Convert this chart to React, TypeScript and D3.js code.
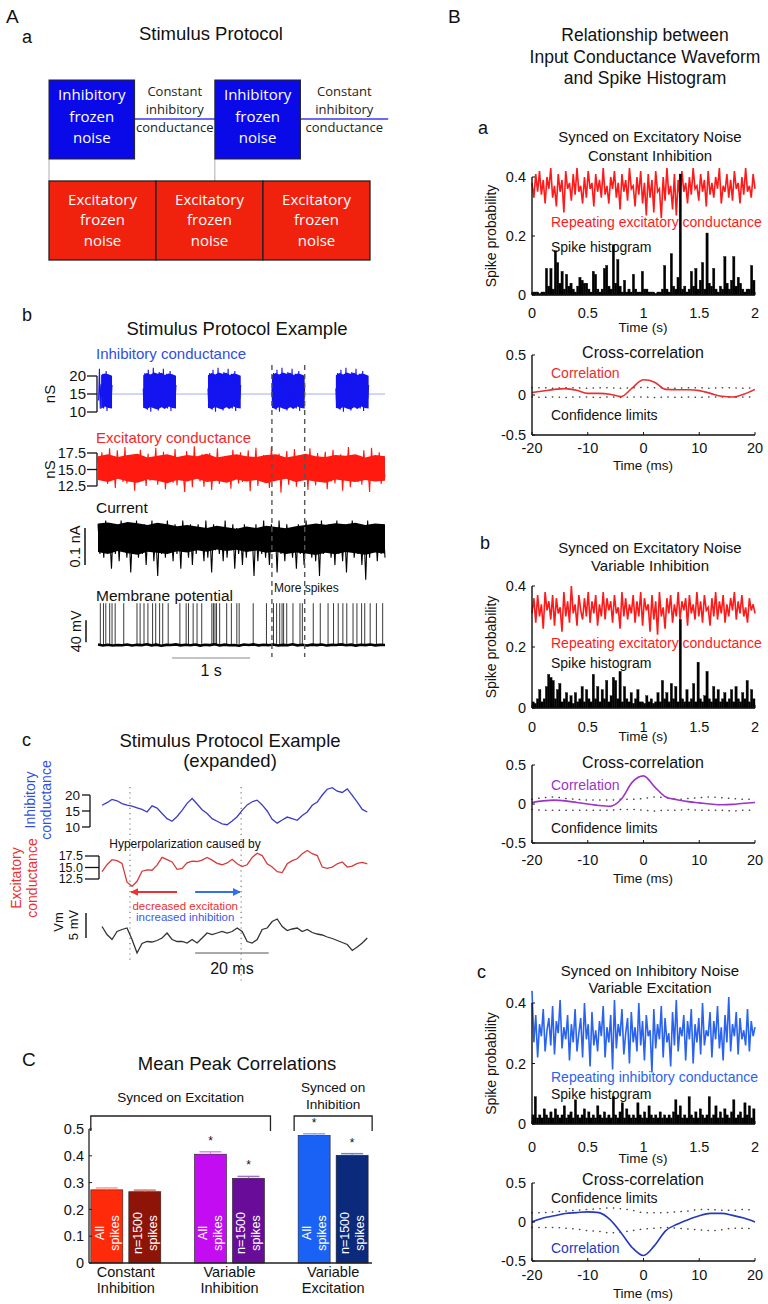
import React from 'react';
import * as d3 from 'd3';

const FONT = '"Liberation Sans", Arial, Helvetica, sans-serif';
const BOX_FONT = '"Open Sans", "Liberation Sans", sans-serif';

// ---------- A a : protocol schematic (time in units of one excitatory block)
const excBlockOnsets = [0, 1, 2];
const excBlockLen = 1;
const inhBlockOnsets = [0, 1.55];
const inhBlockLen = 0.8;
const protocolEnd = 3.17;

// ---------- A b : stimulus protocol example
const stimDuration = 3.68; // s
const inhFrozen = [16.5, 11.2, 20.8, 12.4, 18.9, 10.6, 21.7, 13.8, 17.2, 10.1, 19.6, 14.5, 22.3, 11.8, 16.0, 20.2, 12.9, 18.4, 10.4, 21.1, 15.3, 11.5, 19.8, 13.2, 22.0, 10.9, 17.7, 14.1, 20.6, 11.0, 18.1, 12.6, 21.4, 10.3, 16.8, 19.3, 12.1, 20.0, 13.6, 17.5];
// dense core of each burst (min / max envelope)
const inhBandHi = [20.2, 20.8, 20.4, 21.0, 20.6, 20.9, 20.3, 20.7, 20.5, 20.1];
const inhBandLo = [11.2, 10.8, 11.4, 11.0, 10.7, 11.3, 10.9, 11.5, 11.1, 11.0];
const inhBurstOnsets = [-0.24, 0.58, 1.41, 2.23, 3.05];
const inhBurstDur = 0.42;
const inhTicks = [10, 15, 20];
const excTicks = [12.5, 15.0, 17.5];
const excStim = [16.8, 13.4, 17.6, 14.1, 15.9, 12.8, 18.2, 13.9, 16.4, 12.2, 17.9, 14.6, 15.3, 13.1, 18.4, 12.9, 16.9, 14.3, 17.2, 11.8, 16.1, 13.7, 18.0, 14.8, 15.6, 12.5, 17.4, 13.3, 16.7, 14.0, 18.3, 12.7, 15.8, 13.5, 17.7, 12.0, 16.5, 14.4, 17.1, 13.0, 18.1, 12.6, 16.2, 14.7, 15.4, 11.6, 17.8, 13.8, 16.6, 12.3, 18.5, 14.2, 15.7, 13.2, 17.3, 12.4, 16.3, 14.9, 17.5, 11.9, 16.0, 13.6, 18.2, 12.8, 15.5, 14.1, 17.0, 13.4, 16.8, 12.1, 18.0, 14.5, 15.2, 12.9, 17.6, 13.1, 16.4, 14.0, 17.9, 11.7, 16.7, 13.9, 18.3, 12.5, 15.9, 14.6, 17.2, 13.0, 16.1, 12.2, 18.4, 14.3, 15.6, 13.7, 17.4, 11.5, 16.9, 14.8, 17.8, 12.7, 16.2, 13.3, 18.1, 12.4, 15.8, 14.2, 17.0, 13.5, 16.6, 11.9, 18.2, 14.0, 15.3, 12.6, 17.5, 13.8, 16.4, 14.7, 17.7, 12.0, 16.0, 13.2, 18.0, 12.9, 15.7, 14.4, 17.3, 11.8, 16.8, 13.6, 18.4, 12.3, 15.5, 14.9, 17.1, 13.1, 16.3, 12.7, 17.9, 14.1, 15.9, 11.6, 18.3, 13.4, 16.5, 14.5, 17.6, 12.8, 16.1, 13.9];
const excBandHi = [17.0, 17.3, 16.9, 17.2, 17.4, 16.8, 17.1, 17.3, 16.9, 17.2, 17.0, 17.4, 16.8, 17.1, 17.3, 17.0, 16.9, 17.2, 17.3, 16.8, 17.1, 17.4, 17.0, 16.9, 17.2, 17.1, 17.3, 16.8, 17.2, 17.0];
const excBandLo = [13.4, 13.1, 13.6, 13.2, 13.0, 13.5, 13.3, 12.9, 13.4, 13.2, 13.6, 13.1, 13.3, 13.0, 13.5, 13.2, 13.4, 12.9, 13.3, 13.6, 13.1, 13.4, 13.2, 13.0, 13.5, 13.3, 13.1, 13.4, 13.2, 13.3];
const currentTrace = [0.11, 0.03, 0.10, 0.02, 0.12, 0.04, 0.09, -0.01, 0.11, 0.03, 0.10, 0.01, 0.12, 0.05, 0.09, 0.02, 0.11, -0.02, 0.10, 0.04, 0.12, 0.02, 0.09, 0.03, 0.11, 0.00, 0.10, 0.04, 0.12, 0.01, 0.09, -0.03, 0.11, 0.03, 0.10, 0.02, 0.12, 0.05, 0.09, 0.01, 0.11, 0.03, 0.10, -0.01, 0.12, 0.04, 0.09, 0.02, 0.11, 0.00, 0.10, 0.03, 0.11, 0.05, 0.09, 0.01, 0.12, 0.02, 0.10, -0.02, 0.11, 0.04, 0.09, 0.03, 0.10, 0.01, 0.12, 0.02, 0.09, 0.04, 0.11, -0.01, 0.10, 0.03, 0.09, 0.00, 0.11, 0.02, 0.10, 0.04, 0.09, -0.03, 0.11, 0.01, 0.10, 0.03, 0.12, 0.02, 0.09, 0.00, 0.11, 0.04, 0.10, -0.02, 0.12, 0.03, 0.09, 0.01, 0.11, 0.05, 0.10, 0.02, 0.09, -0.01, 0.11, 0.03, 0.10, 0.00, 0.12, 0.04, 0.09, 0.02, 0.11, 0.01, 0.10, -0.03, 0.12, 0.03, 0.09, 0.04, 0.11, 0.02, 0.10, 0.00, 0.12, 0.03, 0.09, 0.01, 0.11, -0.02, 0.10, 0.04, 0.12, 0.02, 0.09, 0.03, 0.11, 0.00, 0.10, -0.04, 0.12, 0.02, 0.09, 0.04, 0.11, 0.01, 0.10, 0.03, 0.11, 0.02];
const curBandHi = [0.112, 0.115, 0.11, 0.116, 0.113, 0.108, 0.114, 0.11, 0.105, 0.108, 0.104, 0.1, 0.106, 0.102, 0.098, 0.104, 0.1, 0.106, 0.103, 0.099, 0.105, 0.108, 0.112, 0.109, 0.113, 0.11, 0.114, 0.108, 0.112, 0.11];
const curBandLo = [0.035, 0.03, 0.038, 0.032, 0.028, 0.036, 0.033, 0.03, 0.037, 0.034, 0.04, 0.036, 0.042, 0.038, 0.041, 0.035, 0.039, 0.033, 0.036, 0.03, 0.034, 0.031, 0.027, 0.033, 0.029, 0.035, 0.032, 0.028, 0.034, 0.031];
const vmBaseline = [-64.2, -65.8, -64.6, -66.0, -64.9, -65.5, -64.1, -65.9, -64.7, -65.3, -63.8, -65.6, -64.4, -66.2, -64.8, -65.1, -63.9, -65.7, -64.5, -65.4, -64.0, -66.1, -64.6, -65.2, -63.7, -65.8, -64.3, -65.5, -64.9, -66.3, -64.2, -65.0, -63.9, -65.7, -64.6, -65.3, -64.1, -65.9, -64.8, -65.4, -63.8, -65.6, -64.5, -66.0, -64.3, -65.2, -64.0, -65.8, -64.7, -65.1, -63.9, -65.5, -64.4, -66.1, -64.6, -65.3, -64.2, -65.7, -64.8, -65.0];
const spikeTimes = [0.03, 0.07, 0.10, 0.15, 0.18, 0.22, 0.33, 0.50, 0.54, 0.59, 0.64, 0.70, 0.74, 0.79, 0.83, 0.90, 1.05, 1.13, 1.16, 1.22, 1.27, 1.33, 1.46, 1.48, 1.50, 1.52, 1.56, 1.65, 1.71, 1.78, 1.81, 1.99, 2.16, 2.25, 2.29, 2.33, 2.36, 2.38, 2.42, 2.50, 2.59, 2.62, 2.76, 2.85, 2.95, 3.02, 3.08, 3.14, 3.19, 3.27, 3.32, 3.38, 3.42, 3.49, 3.57, 3.65];
const spikePeak = 11; // mV
const moreSpikesWindow = [2.23, 2.65];

// ---------- A c : expanded example
const expDt = 1.36; // ms per sample
const expInh = [16.8, 17.6, 18.6, 18.2, 17.3, 16.8, 16.5, 16.0, 15.5, 14.7, 16.6, 15.9, 14.2, 12.6, 11.8, 13.3, 15.2, 17.4, 18.9, 17.2, 15.4, 14.2, 12.6, 11.8, 11.0, 10.7, 11.9, 13.2, 15.2, 16.9, 17.9, 18.4, 16.9, 15.0, 12.4, 11.2, 12.2, 13.1, 12.6, 12.1, 13.6, 14.7, 16.8, 17.8, 20.0, 21.8, 22.3, 21.2, 20.8, 21.9, 19.9, 17.8, 15.5, 14.7];
const expExc = [14.1, 15.6, 16.7, 16.5, 15.9, 11.8, 10.9, 12.0, 14.2, 14.5, 14.4, 15.5, 17.2, 16.7, 16.2, 14.6, 14.8, 16.0, 16.4, 16.3, 16.6, 17.2, 16.6, 15.9, 15.6, 16.0, 16.8, 15.8, 15.2, 15.6, 17.2, 18.1, 17.6, 15.8, 15.1, 14.1, 13.9, 15.8, 16.5, 16.9, 18.0, 18.7, 18.0, 17.6, 15.1, 14.8, 15.1, 15.8, 16.2, 15.1, 15.3, 15.9, 16.1, 15.8];
const expVm = [-58.7, -60.3, -61.3, -59.7, -59.3, -59.0, -61.3, -64.0, -62.1, -61.7, -61.8, -61.5, -61.0, -60.0, -61.3, -61.7, -61.7, -62.0, -61.3, -62.0, -61.0, -60.0, -60.3, -60.0, -59.7, -60.0, -59.7, -59.0, -59.7, -61.7, -62.0, -61.3, -59.3, -59.0, -57.7, -57.2, -58.7, -59.5, -59.2, -59.0, -59.7, -59.3, -59.9, -60.2, -60.4, -60.8, -61.1, -61.5, -61.9, -62.3, -63.5, -62.8, -62.0, -61.0];
const expMarkers = [7.6, 37.8]; // ms
const expInhTicks = [10, 15, 20];
const expExcTicks = [12.5, 15.0, 17.5];

// ---------- C : mean peak correlations
const groups = ['Constant Inhibition', 'Variable Inhibition', 'Variable Excitation'];
const subsets = ['All spikes', 'n=1500 spikes'];
const peakMeans = [0.273, 0.266, 0.406, 0.316, 0.476, 0.402];
const peakErrors = [0.007, 0.006, 0.009, 0.007, 0.006, 0.006];
const peakSignificant = [false, false, true, true, true, true];
const barColors = ['#ff2a0a', '#8e1408', '#c40cf2', '#6a0c9a', '#1a62f5', '#0c2a7c'];
const errColors = ['#ff9a90', '#d07a70', '#e080ff', '#a070d0', '#80a8ff', '#6a88c8'];
const barTicks = [0, 0.1, 0.2, 0.3, 0.4, 0.5];

// ---------- B : synced histograms
const histBin = 0.02; // s
const timeTicks = [0, 0.5, 1, 1.5, 2];
const probTicks = [0, 0.2, 0.4];
const baCond = [0.38, 0.33, 0.41, 0.35, 0.42, 0.34, 0.39, 0.31, 0.40, 0.36, 0.43, 0.33, 0.37, 0.30, 0.41, 0.35, 0.39, 0.28, 0.42, 0.36, 0.38, 0.32, 0.41, 0.34, 0.43, 0.35, 0.37, 0.31, 0.40, 0.33, 0.42, 0.36, 0.38, 0.30, 0.41, 0.35, 0.39, 0.33, 0.43, 0.34, 0.37, 0.31, 0.40, 0.36, 0.42, 0.33, 0.38, 0.29, 0.41, 0.35, 0.39, 0.32, 0.43, 0.36, 0.37, 0.30, 0.40, 0.34, 0.42, 0.31, 0.38, 0.27, 0.41, 0.33, 0.39, 0.28, 0.42, 0.35, 0.36, 0.26, 0.40, 0.32, 0.43, 0.34, 0.37, 0.29, 0.41, 0.27, 0.39, 0.33, 0.42, 0.35, 0.38, 0.31, 0.40, 0.34, 0.43, 0.36, 0.37, 0.32, 0.41, 0.35, 0.39, 0.30, 0.42, 0.34, 0.38, 0.33, 0.40, 0.36, 0.43, 0.31, 0.37, 0.35, 0.41, 0.33, 0.39, 0.32, 0.42, 0.36, 0.38, 0.31, 0.40, 0.34, 0.43, 0.35, 0.37, 0.33, 0.41, 0.36];
const baHist = [0.01, 0.01, 0.01, 0.005, 0.01, 0.01, 0.09, 0.03, 0.09, 0.02, 0.15, 0.11, 0.04, 0.08, 0.02, 0.07, 0.03, 0.04, 0.02, 0.01, 0.03, 0.06, 0.05, 0.04, 0.04, 0.02, 0.01, 0.08, 0.07, 0.02, 0.01, 0.02, 0.09, 0.10, 0.03, 0.02, 0.17, 0.04, 0.12, 0.03, 0.01, 0.05, 0.01, 0.02, 0.01, 0.07, 0.02, 0.01, 0.01, 0.08, 0.02, 0.02, 0.01, 0.01, 0.01, 0.005, 0.01, 0.01, 0.02, 0.10, 0.02, 0.01, 0.14, 0.03, 0.02, 0.06, 0.41, 0.02, 0.03, 0.01, 0.02, 0.08, 0.03, 0.09, 0.02, 0.05, 0.11, 0.02, 0.21, 0.04, 0.03, 0.09, 0.02, 0.01, 0.03, 0.02, 0.13, 0.04, 0.02, 0.05, 0.13, 0.03, 0.06, 0.04, 0.02, 0.01, 0.02, 0.02, 0.10, 0.05];
const bbCond = [0.31, 0.36, 0.28, 0.37, 0.30, 0.34, 0.26, 0.38, 0.32, 0.35, 0.29, 0.37, 0.27, 0.36, 0.31, 0.33, 0.25, 0.38, 0.30, 0.35, 0.28, 0.40, 0.31, 0.34, 0.27, 0.37, 0.32, 0.29, 0.36, 0.30, 0.38, 0.28, 0.35, 0.31, 0.37, 0.27, 0.34, 0.30, 0.38, 0.29, 0.36, 0.32, 0.35, 0.28, 0.37, 0.31, 0.33, 0.26, 0.38, 0.30, 0.36, 0.29, 0.34, 0.31, 0.37, 0.28, 0.35, 0.30, 0.38, 0.27, 0.36, 0.32, 0.34, 0.25, 0.37, 0.29, 0.35, 0.24, 0.38, 0.30, 0.33, 0.26, 0.36, 0.31, 0.37, 0.28, 0.34, 0.30, 0.38, 0.29, 0.35, 0.32, 0.36, 0.27, 0.37, 0.31, 0.34, 0.29, 0.38, 0.30, 0.35, 0.28, 0.37, 0.32, 0.33, 0.27, 0.36, 0.30, 0.38, 0.29, 0.35, 0.31, 0.37, 0.28, 0.34, 0.30, 0.36, 0.32, 0.38, 0.29, 0.35, 0.31, 0.37, 0.30, 0.33, 0.28, 0.36, 0.32, 0.34, 0.31];
const bbHist = [0.02, 0.015, 0.03, 0.06, 0.02, 0.03, 0.07, 0.11, 0.10, 0.09, 0.03, 0.06, 0.08, 0.02, 0.03, 0.05, 0.02, 0.04, 0.015, 0.05, 0.02, 0.03, 0.07, 0.02, 0.06, 0.03, 0.02, 0.11, 0.03, 0.07, 0.02, 0.06, 0.03, 0.09, 0.02, 0.04, 0.10, 0.09, 0.03, 0.12, 0.02, 0.07, 0.03, 0.02, 0.05, 0.015, 0.03, 0.06, 0.02, 0.02, 0.015, 0.04, 0.02, 0.03, 0.015, 0.02, 0.05, 0.02, 0.09, 0.03, 0.05, 0.02, 0.08, 0.03, 0.07, 0.02, 0.29, 0.03, 0.02, 0.06, 0.02, 0.03, 0.08, 0.02, 0.15, 0.03, 0.02, 0.04, 0.12, 0.03, 0.02, 0.07, 0.03, 0.06, 0.02, 0.03, 0.05, 0.02, 0.03, 0.06, 0.02, 0.07, 0.03, 0.02, 0.05, 0.03, 0.09, 0.02, 0.06, 0.03];
const bcCond = [0.44, 0.27, 0.36, 0.22, 0.33, 0.29, 0.38, 0.24, 0.31, 0.35, 0.26, 0.39, 0.23, 0.34, 0.30, 0.41, 0.25, 0.32, 0.28, 0.36, 0.21, 0.33, 0.27, 0.38, 0.24, 0.30, 0.35, 0.22, 0.40, 0.28, 0.33, 0.19, 0.37, 0.26, 0.31, 0.24, 0.34, 0.29, 0.39, 0.22, 0.32, 0.27, 0.36, 0.18, 0.41, 0.25, 0.33, 0.29, 0.38, 0.23, 0.30, 0.35, 0.20, 0.37, 0.27, 0.32, 0.24, 0.40, 0.26, 0.34, 0.21, 0.36, 0.29, 0.31, 0.17, 0.38, 0.25, 0.33, 0.28, 0.39, 0.22, 0.35, 0.27, 0.30, 0.19, 0.37, 0.26, 0.41, 0.24, 0.32, 0.29, 0.36, 0.21, 0.34, 0.28, 0.38, 0.20, 0.33, 0.27, 0.35, 0.23, 0.40, 0.26, 0.31, 0.29, 0.37, 0.22, 0.34, 0.28, 0.39, 0.25, 0.32, 0.21, 0.36, 0.27, 0.42, 0.24, 0.33, 0.29, 0.37, 0.23, 0.35, 0.28, 0.31, 0.26, 0.38, 0.24, 0.34, 0.29, 0.32];
const bcHist = [0.03, 0.09, 0.02, 0.03, 0.02, 0.05, 0.03, 0.02, 0.04, 0.02, 0.05, 0.03, 0.02, 0.03, 0.06, 0.02, 0.03, 0.04, 0.02, 0.08, 0.03, 0.02, 0.03, 0.05, 0.02, 0.04, 0.02, 0.03, 0.02, 0.06, 0.03, 0.02, 0.04, 0.02, 0.03, 0.02, 0.09, 0.03, 0.02, 0.04, 0.07, 0.02, 0.05, 0.03, 0.02, 0.03, 0.02, 0.07, 0.03, 0.02, 0.04, 0.02, 0.06, 0.03, 0.02, 0.03, 0.02, 0.04, 0.02, 0.03, 0.02, 0.03, 0.02, 0.04, 0.08, 0.03, 0.06, 0.02, 0.03, 0.02, 0.09, 0.03, 0.02, 0.04, 0.02, 0.05, 0.03, 0.02, 0.03, 0.09, 0.02, 0.03, 0.06, 0.02, 0.04, 0.02, 0.05, 0.03, 0.02, 0.04, 0.08, 0.02, 0.03, 0.04, 0.02, 0.07, 0.03, 0.06, 0.02, 0.05];

// ---------- B : cross-correlations (lag in ms)
const corrLags = [-20, -18, -16, -14, -12, -10, -8, -6, -4, -2, 0, 2, 4, 6, 8, 10, 12, 14, 16, 18, 20];
const lagTicks = [-20, -10, 0, 10, 20];
const corrTicks = [-0.5, 0, 0.5];
const caCorr = [0.03, 0.05, 0.07, 0.08, 0.06, 0.02, 0.02, 0.01, -0.02, 0.09, 0.19, 0.16, 0.07, 0.065, 0.065, 0.055, 0.02, -0.015, -0.025, 0.01, 0.07];
const caUpper = [0.09, 0.09, 0.085, 0.09, 0.09, 0.085, 0.09, 0.09, 0.085, 0.09, 0.095, 0.09, 0.09, 0.085, 0.09, 0.09, 0.085, 0.09, 0.09, 0.085, 0.09];
const caLower = [-0.025, -0.03, -0.025, -0.03, -0.025, -0.025, -0.03, -0.025, -0.03, -0.025, -0.025, -0.03, -0.025, -0.03, -0.025, -0.03, -0.025, -0.025, -0.03, -0.025, -0.025];
const cbCorr = [0.02, 0.04, 0.05, 0.04, 0.02, 0.0, -0.02, -0.03, 0.06, 0.28, 0.36, 0.22, 0.09, 0.055, 0.03, 0.015, 0.0, -0.01, -0.005, 0.01, 0.02];
const cbUpper = [0.06, 0.08, 0.09, 0.07, 0.06, 0.05, 0.05, 0.05, 0.06, 0.06, 0.07, 0.09, 0.08, 0.06, 0.07, 0.08, 0.09, 0.08, 0.07, 0.06, 0.06];
const cbLower = [-0.07, -0.08, -0.08, -0.08, -0.08, -0.08, -0.08, -0.08, -0.07, -0.07, -0.08, -0.09, -0.08, -0.08, -0.07, -0.08, -0.08, -0.08, -0.09, -0.08, -0.08];
const ccCorr = [0.0, 0.05, 0.08, 0.11, 0.12, 0.13, 0.12, 0.03, -0.14, -0.33, -0.43, -0.3, -0.11, -0.03, 0.03, 0.08, 0.11, 0.11, 0.085, 0.05, 0.0];
const ccUpper = [0.12, 0.12, 0.13, 0.14, 0.15, 0.16, 0.17, 0.18, 0.17, 0.15, 0.12, 0.12, 0.12, 0.13, 0.14, 0.16, 0.16, 0.15, 0.15, 0.16, 0.15];
const ccLower = [-0.07, -0.07, -0.07, -0.08, -0.09, -0.11, -0.12, -0.14, -0.13, -0.11, -0.09, -0.08, -0.07, -0.08, -0.09, -0.1, -0.11, -0.1, -0.08, -0.08, -0.09];

type Scale = (v: number) => number;

function trace(vals: number[], x: Scale, y: Scale, t0: number, dt: number) {
  return d3.line<number>()
    .defined((_, i) => t0 + i * dt >= 0)
    .x((_, i) => x(t0 + i * dt))
    .y(d => y(d))(vals) || '';
}

function band(hi: number[], lo: number[], x: Scale, y: Scale, t0: number, dt: number) {
  return d3.area<number>()
    .defined((_, i) => t0 + i * dt >= 0)
    .x((_, i) => x(t0 + i * dt))
    .y0((_, i) => y(lo[i]))
    .y1(d => y(d))(hi) || '';
}

function RotText({ x, y, children, size = 13, fill = '#111' }: any) {
  return (
    <text transform={`translate(${x},${y}) rotate(-90)`} textAnchor="middle" fontSize={size} fill={fill}>
      {children}
    </text>
  );
}

function Protocol() {
  const x = d3.scaleLinear().domain([0, 3]).range([49, 370]);
  const inhTop = 80, inhBot = 159, excTop = 181, excBot = 260, lineY = 119;
  return (
    <g>
      <text x={6} y={23} fontSize={19}>A</text>
      <text x={22} y={43} fontSize={18}>a</text>
      <text x={211} y={40} textAnchor="middle" fontSize={18.5}>Stimulus Protocol</text>
      {inhBlockOnsets.map((t, i) => {
        const next = i + 1 < inhBlockOnsets.length ? inhBlockOnsets[i + 1] : protocolEnd;
        const x0 = x(t + inhBlockLen), x1 = x(next);
        const cx = (x0 + x1) / 2;
        return (
          <g key={'c' + i}>
            <line x1={x(t)} x2={x(t)} y1={inhBot} y2={excTop} stroke="#999" strokeWidth={0.8} />
            <line x1={x0} x2={x1} y1={lineY} y2={lineY} stroke="#3a3af0" strokeWidth={1.4} />
            <g fontFamily={BOX_FONT} fontSize={13} fill="#222" textAnchor="middle">
              <text x={cx} y={96}>Constant</text>
              <text x={cx} y={114}>inhibitory</text>
              <text x={cx} y={132}>conductance</text>
            </g>
          </g>
        );
      })}
      {inhBlockOnsets.map((t, i) => {
        const cx = (x(t) + x(t + inhBlockLen)) / 2;
        return (
          <g key={'i' + i}>
            <rect x={x(t)} y={inhTop} width={x(t + inhBlockLen) - x(t)} height={inhBot - inhTop} fill="#0a0ae8" stroke="#222" strokeWidth={1} />
            <g fontFamily={BOX_FONT} fontSize={15} fill="#fff" textAnchor="middle">
              <text x={cx} y={100}>Inhibitory</text>
              <text x={cx} y={122}>frozen</text>
              <text x={cx} y={143}>noise</text>
            </g>
          </g>
        );
      })}
      {excBlockOnsets.map((t, i) => {
        const cx = (x(t) + x(t + excBlockLen)) / 2;
        return (
          <g key={'e' + i}>
            <rect x={x(t)} y={excTop} width={x(t + excBlockLen) - x(t)} height={excBot - excTop} fill="#f0220e" stroke="#222" strokeWidth={1.3} />
            <g fontFamily={BOX_FONT} fontSize={15} fill="#fff" textAnchor="middle">
              <text x={cx} y={205}>Excitatory</text>
              <text x={cx} y={225}>frozen</text>
              <text x={cx} y={246}>noise</text>
            </g>
          </g>
        );
      })}
    </g>
  );
}

function StimExample() {
  const x = d3.scaleLinear().domain([0, stimDuration]).range([98, 385]);
  const yInh = d3.scaleLinear().domain([10, 20]).range([412, 376]);
  const yExc = d3.scaleLinear().domain([12.5, 17.5]).range([486, 453]);
  const yCur = d3.scaleLinear().domain([0, 0.1]).range([565, 528]);
  const yVm = d3.scaleLinear().domain([-65, -25]).range([645, 623]);
  const inhDt = inhBurstDur / (inhFrozen.length - 1);
  const inhBandDt = inhBurstDur / (inhBandHi.length - 1);
  const axisX = 97;
  return (
    <g>
      <text x={22} y={321} fontSize={18}>b</text>
      <text x={237} y={335} textAnchor="middle" fontSize={18.5}>Stimulus Protocol Example</text>
      <text x={96} y={358.5} fontSize={15} fill="#2f4fe0">Inhibitory conductance</text>
      <line x1={x(0)} x2={x(stimDuration)} y1={yInh(15)} y2={yInh(15)} stroke="#8a9af0" strokeWidth={0.8} />
      {inhBurstOnsets.map((t0, i) => (
        <g key={i}>
          <path d={band(inhBandHi, inhBandLo, x, yInh, t0, inhBandDt)} fill="#1414f0" />
          <path d={trace(inhFrozen, x, yInh, t0, inhDt)} fill="none" stroke="#1414f0" strokeWidth={1.1} />
        </g>
      ))}
      <line x1={axisX} x2={axisX} y1={yInh(10)} y2={yInh(20)} stroke="#111" strokeWidth={1.3} />
      {inhTicks.map(t => (
        <g key={t}>
          <line x1={axisX - 10} x2={axisX} y1={yInh(t)} y2={yInh(t)} stroke="#111" strokeWidth={1.3} />
          <text x={axisX - 11} y={yInh(t) + 5.3} textAnchor="end" fontSize={15}>{t}</text>
        </g>
      ))}
      <RotText x={55} y={yInh(15)} size={15}>nS</RotText>

      <text x={96} y={442.5} fontSize={15} fill="#f02a2a">Excitatory conductance</text>
      <path d={band(excBandHi, excBandLo, x, yExc, 0, stimDuration / (excBandHi.length - 1))} fill="#ff1a10" />
      <path d={trace(excStim, x, yExc, 0, stimDuration / (excStim.length - 1))} fill="none" stroke="#ff1a10" strokeWidth={1.1} />
      <line x1={axisX} x2={axisX} y1={yExc(12.5)} y2={yExc(17.5)} stroke="#111" strokeWidth={1.3} />
      {excTicks.map(t => (
        <g key={t}>
          <line x1={axisX - 10} x2={axisX} y1={yExc(t)} y2={yExc(t)} stroke="#111" strokeWidth={1.3} />
          <text x={axisX - 11} y={yExc(t) + 5} textAnchor="end" fontSize={14.5}>{t.toFixed(1)}</text>
        </g>
      ))}
      <RotText x={55} y={yExc(15)} size={15}>nS</RotText>

      <text x={96} y={512.5} fontSize={15.5}>Current</text>
      <path d={band(curBandHi, curBandLo, x, yCur, 0, stimDuration / (curBandHi.length - 1))} fill="#000" />
      <path d={trace(currentTrace, x, yCur, 0, stimDuration / (currentTrace.length - 1))} fill="none" stroke="#000" strokeWidth={1.1} />
      <line x1={85} x2={85} y1={yCur(0)} y2={yCur(0.1)} stroke="#111" strokeWidth={1.5} />
      <RotText x={80} y={(yCur(0) + yCur(0.1)) / 2} size={14.5}>0.1 nA</RotText>

      <text x={96} y={601} fontSize={15.5}>Membrane potential</text>
      <text x={274} y={591.5} fontSize={12}>More spikes</text>
      {spikeTimes.map((t, i) => (
        <line key={i} x1={x(t)} x2={x(t)} y1={yVm(-65)} y2={yVm(spikePeak)} stroke="#222" strokeWidth={0.9} />
      ))}
      <path d={trace(vmBaseline, x, yVm, 0, stimDuration / (vmBaseline.length - 1))} fill="none" stroke="#000" strokeWidth={2.6} />
      <line x1={86} x2={86} y1={yVm(-60)} y2={yVm(-20)} stroke="#111" strokeWidth={1.5} />
      <RotText x={81} y={yVm(-40)} size={14.5}>40 mV</RotText>

      {moreSpikesWindow.map((t, i) => (
        <line key={i} x1={x(t)} x2={x(t)} y1={365} y2={657} stroke="#555" strokeWidth={1.4} strokeDasharray="5 4" />
      ))}
      <line x1={x(0.95)} x2={x(1.95)} y1={658} y2={658} stroke="#888" strokeWidth={1} />
      <text x={x(1.45)} y={676} textAnchor="middle" fontSize={16}>1 s</text>
    </g>
  );
}

function Expanded() {
  const x = d3.scaleLinear().domain([0, 72]).range([102, 367]);
  const yInh = d3.scaleLinear().domain([10, 20]).range([827, 795]);
  const yExc = d3.scaleLinear().domain([12.5, 17.5]).range([879, 856]);
  const yVm = d3.scaleLinear().domain([-60, -55]).range([933, 908]);
  const arrowY = 892;
  return (
    <g>
      <defs>
        <marker id="arrR" viewBox="0 0 10 10" refX="9" refY="5" markerWidth="4" markerHeight="4" orient="auto-start-reverse">
          <path d="M0,0 L10,5 L0,10 z" fill="#f03030" />
        </marker>
        <marker id="arrB" viewBox="0 0 10 10" refX="9" refY="5" markerWidth="4" markerHeight="4" orient="auto">
          <path d="M0,0 L10,5 L0,10 z" fill="#2f6ff0" />
        </marker>
      </defs>
      <text x={22} y={746} fontSize={18}>c</text>
      <text x={230} y={747} textAnchor="middle" fontSize={18.5}>Stimulus Protocol Example</text>
      <text x={230} y={767} textAnchor="middle" fontSize={18.5}>(expanded)</text>
      <RotText x={35} y={800} size={14}>
        <tspan fill="#2f4fe0">Inhibitory</tspan>
      </RotText>
      <RotText x={51} y={800} size={14}>
        <tspan fill="#2f4fe0">conductance</tspan>
      </RotText>
      <RotText x={21} y={878} size={14}>
        <tspan fill="#ec3030">Excitatory</tspan>
      </RotText>
      <RotText x={37} y={878} size={14}>
        <tspan fill="#ec3030">conductance</tspan>
      </RotText>

      {expMarkers.map((t, i) => (
        <line key={i} x1={x(t)} x2={x(t)} y1={787} y2={i === 0 ? 963 : 983} stroke="#777" strokeWidth={1.2} strokeDasharray="1.2 4" />
      ))}

      <path d={trace(expInh, x, yInh, 0, expDt)} fill="none" stroke="#3b3bc8" strokeWidth={1.3} />
      <line x1={90} x2={90} y1={yInh(10)} y2={yInh(20)} stroke="#111" strokeWidth={1.3} />
      {expInhTicks.map(t => (
        <g key={t}>
          <line x1={82} x2={90} y1={yInh(t)} y2={yInh(t)} stroke="#111" strokeWidth={1.3} />
          <text x={80} y={yInh(t) + 4.7} textAnchor="end" fontSize={13.5}>{t}</text>
        </g>
      ))}

      <text x={185} y={848} textAnchor="middle" fontSize={12}>Hyperpolarization caused by</text>
      <path d={trace(expExc, x, yExc, 0, expDt)} fill="none" stroke="#d83a3a" strokeWidth={1.3} />
      <line x1={99} x2={99} y1={yExc(12.5)} y2={yExc(17.5)} stroke="#111" strokeWidth={1.3} />
      {expExcTicks.map(t => (
        <g key={t}>
          <line x1={85} x2={99} y1={yExc(t)} y2={yExc(t)} stroke="#111" strokeWidth={1.3} />
          <text x={83} y={yExc(t) + 4.3} textAnchor="end" fontSize={12.5}>{t.toFixed(1)}</text>
        </g>
      ))}

      <line x1={x(20.4)} x2={x(7.9)} y1={arrowY} y2={arrowY} stroke="#f03030" strokeWidth={2} markerEnd="url(#arrR)" />
      <line x1={x(25.3)} x2={x(37.5)} y1={arrowY} y2={arrowY} stroke="#2f6ff0" strokeWidth={2} markerEnd="url(#arrB)" />
      <text x={x(22.6)} y={910} textAnchor="middle" fontSize={11.5} fill="#e83030">decreased excitation</text>
      <text x={x(22.6)} y={921} textAnchor="middle" fontSize={11.5} fill="#3a5ae8">increased inhibition</text>

      <path d={trace(expVm, x, yVm, 0, expDt)} fill="none" stroke="#333" strokeWidth={1.3} />
      <line x1={86} x2={86} y1={yVm(-61)} y2={yVm(-56)} stroke="#111" strokeWidth={1.4} />
      <RotText x={63} y={922} size={13}>Vm</RotText>
      <RotText x={78} y={925} size={13}>5 mV</RotText>
      <line x1={x(25.3)} x2={x(45.3)} y1={953} y2={953} stroke="#555" strokeWidth={1} />
      <text x={x(35.3)} y={974} textAnchor="middle" fontSize={16}>20 ms</text>
    </g>
  );
}

function PeakBars() {
  const y = d3.scaleLinear().domain([0, 0.5]).range([1263, 1129]);
  const gx = d3.scaleBand<string>().domain(groups).range([74, 385]);
  const sx = d3.scaleBand<string>().domain(subsets).range([16.8, 86.8]).paddingInner(0.158);
  const bw = sx.bandwidth();
  const barX = (i: number) => (gx(groups[Math.floor(i / 2)]) as number) + (sx(subsets[i % 2]) as number);
  const axisX = 89;
  const brTop = 1116, brBot = 1131;
  const exL = barX(0), exR = barX(3) + bw + 6;
  const inL = barX(4) - 4, inR = barX(5) + bw + 4;
  return (
    <g>
      <text x={22} y={1066} fontSize={19}>C</text>
      <text x={237} y={1070} textAnchor="middle" fontSize={18.5}>Mean Peak Correlations</text>
      <text x={(exL + exR) / 2} y={1102} textAnchor="middle" fontSize={13.6}>Synced on Excitation</text>
      <text x={(inL + inR) / 2} y={1092} textAnchor="middle" fontSize={13.6}>Synced on</text>
      <text x={(inL + inR) / 2} y={1109} textAnchor="middle" fontSize={13.6}>Inhibition</text>
      <path d={`M${exL},${brBot}V${brTop}H${exR}V${brBot}`} fill="none" stroke="#222" strokeWidth={1.3} />
      <path d={`M${inL},${brBot}V${brTop}H${inR}V${brBot}`} fill="none" stroke="#222" strokeWidth={1.3} />

      {peakMeans.map((m, i) => {
        const bx = barX(i), cx = bx + bw / 2;
        const top = y(m), errTop = y(m + peakErrors[i]);
        const lines = subsets[i % 2].split(' ');
        return (
          <g key={i}>
            <rect x={bx} y={top} width={bw} height={y(0) - top} fill={barColors[i]} stroke="#222" strokeWidth={0.6} />
            <line x1={cx} x2={cx} y1={top} y2={errTop} stroke={errColors[i]} strokeWidth={1.2} />
            <line x1={cx - 11} x2={cx + 11} y1={errTop} y2={errTop} stroke={errColors[i]} strokeWidth={1.5} />
            {peakSignificant[i] && (
              <text x={cx} y={errTop - 7} textAnchor="middle" fontSize={12}>*</text>
            )}
            <RotText x={cx - 3} y={1233} size={12.5} fill="#fff">{lines[0]}</RotText>
            <RotText x={cx + 12} y={1233} size={12.5} fill="#fff">{lines[1]}</RotText>
          </g>
        );
      })}

      <line x1={axisX} x2={axisX} y1={y(0)} y2={y(0.5)} stroke="#222" strokeWidth={1.3} />
      <line x1={axisX} x2={372} y1={y(0)} y2={y(0)} stroke="#222" strokeWidth={1.3} />
      {barTicks.map(t => (
        <g key={t}>
          <line x1={axisX} x2={axisX + 3} y1={y(t)} y2={y(t)} stroke="#222" strokeWidth={1} />
          <text x={axisX - 5} y={y(t) + 5.2} textAnchor="end" fontSize={14.5}>{t === 0 ? '0' : t.toFixed(1)}</text>
        </g>
      ))}
      {groups.map(g => {
        const cx = (gx(g) as number) + gx.bandwidth() / 2;
        const [a, b] = g.split(' ');
        return (
          <g key={g} fontSize={14.5} textAnchor="middle">
            <text x={cx} y={1277}>{a}</text>
            <text x={cx} y={1293}>{b}</text>
          </g>
        );
      })}
    </g>
  );
}

function SyncedPanel({ p }: any) {
  const x = d3.scaleLinear().domain([0, 2]).range([532, 755]);
  const y = d3.scaleLinear().domain([0, 0.4]).range([p.hist0, p.hist4]);
  const cx = d3.scaleLinear().domain([-20, 20]).range([532, 755]);
  const cy = d3.scaleLinear().domain([-0.5, 0.5]).range([p.cBot, p.cTop]);
  const bw = x(histBin) - x(0);
  const corrLine = d3.line<number>().x((_, i) => cx(corrLags[i])).y(d => cy(d)).curve(d3.curveMonotoneX);
  return (
    <g>
      <text x={p.letterX} y={p.letterY} fontSize={18}>{p.letter}</text>
      <text x={650} y={p.titleY[0]} textAnchor="middle" fontSize={15}>{p.title[0]}</text>
      <text x={650} y={p.titleY[1]} textAnchor="middle" fontSize={15}>{p.title[1]}</text>
      <text x={551} y={p.condLabelY} fontSize={14}>
        <tspan fill={p.condColor}>{p.condLabel}</tspan>
      </text>
      <text x={551} y={p.histLabelY} fontSize={14}>Spike histogram</text>
      <path d={trace(p.cond, x, y, 0, 2 / (p.cond.length - 1))} fill="none" stroke={p.condColor} strokeWidth={1.6} />
      {p.hist.map((v: number, i: number) => (
        <rect key={i} x={x(i * histBin)} y={y(v)} width={bw} height={y(0) - y(v)} fill="#000" stroke="#000" strokeWidth={0.4} />
      ))}
      <line x1={532} x2={532} y1={y(0)} y2={y(0.4)} stroke="#111" strokeWidth={1.4} />
      <line x1={532} x2={755} y1={y(0)} y2={y(0)} stroke="#111" strokeWidth={1.4} />
      {probTicks.map(t => (
        <g key={t}>
          <line x1={532} x2={535} y1={y(t)} y2={y(t)} stroke="#111" />
          <text x={526} y={y(t) + 5.2} textAnchor="end" fontSize={14.5}>{t === 0 ? '0' : t.toFixed(1)}</text>
        </g>
      ))}
      {timeTicks.map(t => (
        <g key={t}>
          <line x1={x(t)} x2={x(t)} y1={y(0)} y2={y(0) - 3} stroke="#111" />
          <text x={x(t)} y={p.xTickY} textAnchor="middle" fontSize={14.5}>{t}</text>
        </g>
      ))}
      <text x={643} y={p.xTitleY} textAnchor="middle" fontSize={13.5}>Time (s)</text>
      <RotText x={496} y={(y(0) + y(0.4)) / 2} size={14}>Spike probability</RotText>

      <text x={643} y={p.cTitleY} textAnchor="middle" fontSize={16}>Cross-correlation</text>
      <text x={551} y={p.corrLabelY} fontSize={14}>
        <tspan fill={p.corrColor}>Correlation</tspan>
      </text>
      <text x={551} y={p.confLabelY} fontSize={14}>Confidence limits</text>
      <path d={corrLine(p.upper) || ''} fill="none" stroke="#444" strokeWidth={1.5} strokeDasharray="0.3 6.5" strokeLinecap="round" />
      <path d={corrLine(p.lower) || ''} fill="none" stroke="#444" strokeWidth={1.5} strokeDasharray="0.3 6.5" strokeLinecap="round" />
      <path d={corrLine(p.corr) || ''} fill="none" stroke={p.corrColor} strokeWidth={1.6} />
      <line x1={532} x2={532} y1={cy(-0.5)} y2={cy(0.5)} stroke="#111" strokeWidth={1.4} />
      <line x1={532} x2={755} y1={cy(-0.5)} y2={cy(-0.5)} stroke="#111" strokeWidth={1.4} />
      {corrTicks.map(t => (
        <g key={t}>
          <line x1={532} x2={535} y1={cy(t)} y2={cy(t)} stroke="#111" />
          <text x={526} y={cy(t) + 5.2} textAnchor="end" fontSize={14.5}>{t}</text>
        </g>
      ))}
      {lagTicks.map(t => (
        <g key={t}>
          <line x1={cx(t)} x2={cx(t)} y1={cy(-0.5)} y2={cy(-0.5) - 3} stroke="#111" />
          <text x={cx(t)} y={p.cTickY} textAnchor="middle" fontSize={14.5}>{t}</text>
        </g>
      ))}
      <text x={643} y={p.cTitleY2} textAnchor="middle" fontSize={13.5}>Time (ms)</text>
    </g>
  );
}

const panels = [
  { letter: 'a', letterX: 478, letterY: 134, title: ['Synced on Excitatory Noise', 'Constant Inhibition'], titleY: [141.5, 160.5],
    hist0: 295, hist4: 177, cond: baCond, condColor: '#ff1a1a', condLabel: 'Repeating excitatory conductance', condLabelY: 227, histLabelY: 252,
    hist: baHist, xTickY: 317.5, xTitleY: 332,
    cTop: 355, cBot: 435, cTitleY: 358, corrLabelY: 378, confLabelY: 420, cTickY: 453, cTitleY2: 470,
    corr: caCorr, upper: caUpper, lower: caLower, corrColor: '#e83030' },
  { letter: 'b', letterX: 480, letterY: 549, title: ['Synced on Excitatory Noise', 'Variable Inhibition'], titleY: [552.5, 570.5],
    hist0: 708, hist4: 586, cond: bbCond, condColor: '#ff1a1a', condLabel: 'Repeating excitatory conductance', condLabelY: 648, histLabelY: 668,
    hist: bbHist, xTickY: 732, xTitleY: 741,
    cTop: 765, cBot: 843, cTitleY: 768, corrLabelY: 790, confLabelY: 833, cTickY: 865, cTitleY2: 883,
    corr: cbCorr, upper: cbUpper, lower: cbLower, corrColor: '#9a35c8' },
  { letter: 'c', letterX: 477, letterY: 978, title: ['Synced on Inhibitory Noise', 'Variable Excitation'], titleY: [975.5, 992.5],
    hist0: 1124, hist4: 1003, cond: bcCond, condColor: '#2a63f0', condLabel: 'Repeating inhibitory conductance', condLabelY: 1082, histLabelY: 1099,
    hist: bcHist, xTickY: 1152, xTitleY: 1163,
    cTop: 1183, cBot: 1261, cTitleY: 1185, corrLabelY: 1253, confLabelY: 1203, cTickY: 1280, cTitleY2: 1298,
    corr: ccCorr, upper: ccUpper, lower: ccLower, corrColor: '#2438c0' },
];

export default function App() {
  return (
    <svg width={768} height={1304} style={{ position: 'absolute', left: 0, top: 0, background: '#fff' }}
      fontFamily={FONT} fill="#111">
      <rect width={768} height={1304} fill="#fff" />
      <Protocol />
      <StimExample />
      <Expanded />
      <PeakBars />
      <text x={448} y={23} fontSize={19}>B</text>
      <g fontSize={17.5} textAnchor="middle">
        <text x={645} y={41}>Relationship between</text>
        <text x={645} y={63}>Input Conductance Waveform</text>
        <text x={645} y={84}>and Spike Histogram</text>
      </g>
      {panels.map(p => <SyncedPanel key={p.letter} p={p} />)}
    </svg>
  );
}
